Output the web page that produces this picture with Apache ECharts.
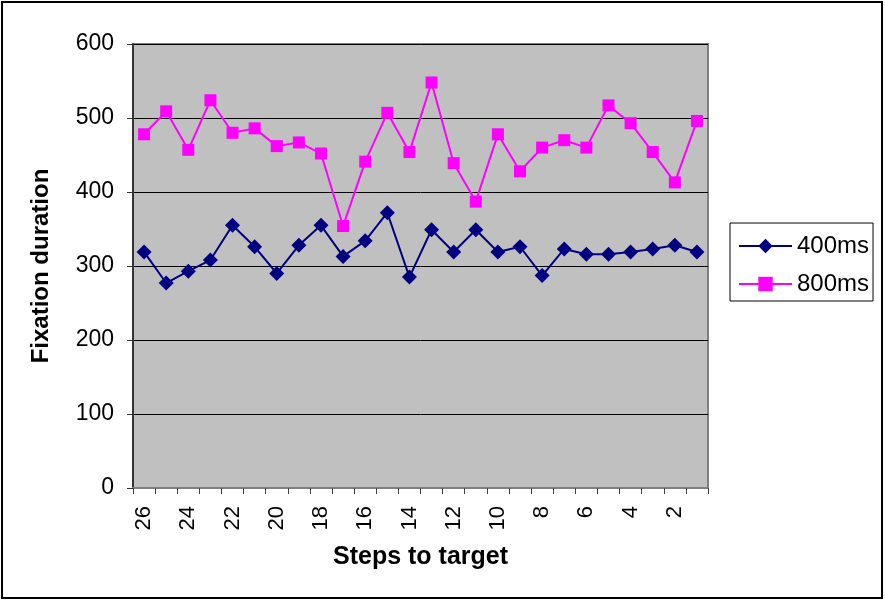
<!DOCTYPE html>
<html>
<head>
<meta charset="utf-8">
<script src="https://cdn.jsdelivr.net/npm/echarts@6/dist/echarts.min.js"></script>
<style>
  html, body { margin: 0; padding: 0; background: #fff; }
  #chart { width: 885px; height: 601px; }
</style>
</head>
<body>
<div id="chart"></div>
<script>
// Steps remaining before the target, counting down
const steps = ['26','25','24','23','22','21','20','19','18','17','16','15','14','13','12','11','10','9','8','7','6','5','4','3','2','1'];

// Mean fixation duration per step
const fix400 = [319, 277, 293, 308, 355, 326, 290, 328, 355, 313, 334, 372, 285, 349, 319, 349, 319, 326, 287, 323, 316, 316, 319, 323, 328, 319];
const fix800 = [478, 509, 457, 524, 480, 486, 462, 467, 452, 354, 441, 507, 454, 548, 439, 387, 478, 428, 460, 470, 460, 517, 493, 454, 413, 496];

const yTicks = [0, 100, 200, 300, 400, 500, 600];

const chart = echarts.init(document.getElementById('chart'));
const font = 'Liberation Sans, Arial, sans-serif';

chart.setOption({
  animation: false,
  backgroundColor: '#ffffff',
  graphic: [
    {
      type: 'rect',
      shape: { x: 2, y: 2, width: 880, height: 596 },
      style: { fill: 'none', stroke: '#000', lineWidth: 2 },
      silent: true
    }
  ],
  grid: {
    left: 133, top: 44, right: 177, bottom: 113,
    show: true,
    backgroundColor: '#c0c0c0',
    borderColor: '#808080',
    borderWidth: 2
  },
  legend: {
    orient: 'vertical',
    left: 730, top: 223,
    width: 147,
    padding: [11, 4, 5, 8],
    itemGap: 14,
    itemWidth: 53, itemHeight: 18,
    borderColor: '#000', borderWidth: 1,
    backgroundColor: '#fff',
    textStyle: { fontFamily: font, fontSize: 24, color: '#000' },
    data: ['400ms', '800ms']
  },
  xAxis: {
    type: 'category',
    data: steps,
    boundaryGap: true,
    name: 'Steps to target',
    nameLocation: 'middle',
    nameGap: 57,
    nameTextStyle: { fontFamily: font, fontSize: 25, fontWeight: 'bold', color: '#000' },
    axisLine: { show: true, lineStyle: { color: '#808080', width: 2 } },
    axisTick: { show: true, interval: 0, length: 6, lineStyle: { color: '#404040', width: 1 } },
    axisLabel: { interval: 1, rotate: 90, margin: 18, fontFamily: font, fontSize: 22, color: '#000' },
    splitLine: { show: false }
  },
  yAxis: {
    type: 'value',
    min: 0, max: 600, interval: 100,
    name: 'Fixation duration',
    nameLocation: 'middle',
    nameGap: 80,
    nameTextStyle: { fontFamily: font, fontSize: 24, fontWeight: 'bold', color: '#000' },
    axisLine: { show: true, lineStyle: { color: '#333', width: 2 } },
    axisTick: { show: true, length: 6, lineStyle: { color: '#333', width: 1 } },
    axisLabel: {
      margin: 19, fontFamily: font, fontSize: 23, color: '#000',
      formatter: v => yTicks.indexOf(v) >= 0 ? String(v) : ''
    },
    splitLine: { show: true, lineStyle: { color: '#000', width: 1 } }
  },
  series: [
    {
      name: '400ms',
      type: 'line',
      data: fix400,
      symbol: 'diamond',
      symbolSize: 15,
      showAllSymbol: true,
      color: '#000080',
      lineStyle: { color: '#000080', width: 2 },
      itemStyle: { color: '#000080' }
    },
    {
      name: '800ms',
      type: 'line',
      data: fix800,
      symbol: 'rect',
      symbolSize: 12,
      showAllSymbol: true,
      color: '#ff00ff',
      lineStyle: { color: '#ff00ff', width: 2 },
      itemStyle: { color: '#ff00ff' }
    }
  ]
});
</script>
</body>
</html>
